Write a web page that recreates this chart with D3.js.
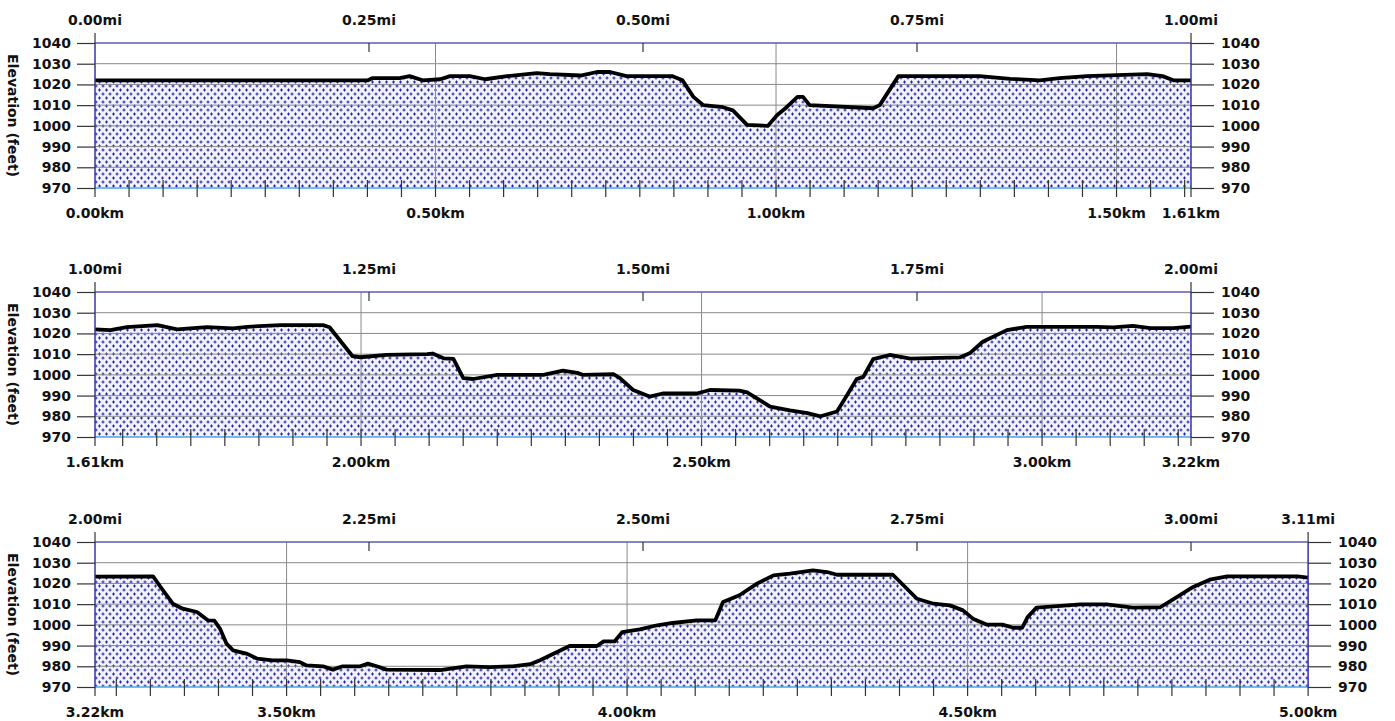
<!DOCTYPE html>
<html><head><meta charset="utf-8">
<script src="https://cdn.jsdelivr.net/npm/d3@7"></script>
<style>
body{margin:0;background:#fff;}
text{font-family:"DejaVu Sans",Verdana,sans-serif;font-weight:bold;font-size:14px;fill:#111;}
</style>
</head><body>
<svg id="chart" width="1395" height="721"></svg>
<script>
// ---- data ----
const KM_PER_MI = 1.609344;
const profileMiles = [
  0.000,0.249,0.253,0.278,0.287,0.299,0.315,0.324,0.342,0.356,0.376,0.403,0.415,0.443,0.458,0.470,0.485,0.527,0.536,0.546,
  0.555,0.573,0.582,0.595,0.614,0.622,0.631,0.641,0.646,0.652,0.710,0.716,0.733,0.807,0.835,0.862,0.880,0.905,0.960,0.974,0.984,
  1.000,1.014,1.029,1.057,1.075,1.102,1.126,1.139,1.169,1.208,1.214,1.235,1.242,1.266,1.303,1.308,1.318,1.327,1.336,1.345,
  1.367,1.409,1.427,1.440,1.445,1.473,1.479,1.491,1.506,1.518,1.549,1.561,1.588,1.595,1.616,1.634,1.650,1.662,1.677,1.686,
  1.695,1.701,1.710,1.725,1.744,1.789,1.798,1.810,1.832,1.850,1.914,1.929,1.947,1.963,1.984,
  2.000,2.053,2.062,2.071,2.080,2.093,2.103,2.109,2.114,2.120,2.126,2.139,2.148,2.162,2.175,2.187,2.193,2.208,2.217,2.226,
  2.242,2.249,2.257,2.266,2.315,2.339,2.360,2.381,2.397,2.406,2.433,2.458,2.464,2.474,2.481,2.497,2.513,2.527,2.549,2.566,
  2.573,2.588,2.604,2.619,2.634,2.655,2.668,2.677,2.728,2.750,2.765,2.780,2.792,2.801,2.814,2.828,2.838,2.846,2.851,2.859,
  2.878,2.899,2.923,2.947,2.972,2.987,3.002,3.017,3.033,3.097,3.1069
];
const profileFeet = [
  1022,1022,1023,1023,1024,1022,1022.5,1024,1024,1022.5,1024,1025.5,1025,1024.3,1026,1026,1024,1024,1022,1014,
  1010,1009,1007.5,1000.5,1000,1005,1009,1014,1014,1010,1008.5,1010,1024,1024,1022.7,1022,1023,1024,1025,1024,1022,
  1022,1021.6,1023,1024,1022,1023,1022.4,1023.2,1024,1024,1023,1009,1008.5,1009.6,1010,1010.3,1008,1007.7,998.4,998,
  1000,1000,1002,1001,1000,1000.3,998.4,992.7,989.5,991,991,992.7,992.4,991.5,984.7,982.8,981.5,980,982.3,990,
  998,999,1007.6,1009.6,1007.8,1008.4,1010.4,1016,1021.6,1023.2,1023.2,1022.9,1023.6,1022.6,1022.6,
  1023.3,1023.4,1016.7,1010.2,1007.8,1006.2,1002.2,1002,998.2,990.9,987.7,986,983.7,982.9,982.9,982,980.4,980,978.4,980,
  980,981.3,980,978.4,978.2,980,979.6,980,981,982.9,989.8,989.8,992,992,996.5,997.8,999.8,1000.9,1002.2,1002.2,
  1011,1014.3,1019.9,1023.9,1024.7,1026.3,1025.5,1024.2,1024.2,1012.6,1010.2,1009.4,1007,1003,1000.1,1000.1,998.6,998.6,1003.8,1008.3,
  1009,1009.9,1009.9,1008.3,1008.5,1013.4,1018.3,1021.8,1023.4,1023.4,1022.8
];
const panelStartMiles = [0, 1, 2];
const panelEndMiles = [1, 2, 5 / KM_PER_MI];
const elevationTicks = [970, 980, 990, 1000, 1010, 1020, 1030, 1040];
const yLabel = "Elevation (feet)";

// ---- layout ----
const svg = d3.select("#chart");
const left = 95, pxPerMile = 1096, plotH = 145;
const panelTops = [43, 292, 542];

// fill pattern
const defs = svg.append("defs");
const pat = defs.append("pattern").attr("id", "dots").attr("patternUnits", "userSpaceOnUse")
  .attr("width", 7).attr("height", 8);
pat.append("rect").attr("width", 7).attr("height", 8).attr("fill", "#f2f2ff");
[[1.5, 2], [5, 6]].forEach(([cx, cy]) => {
  pat.append("rect").attr("x", cx - 1.5).attr("y", cy - 0.5).attr("width", 3).attr("height", 1).attr("fill", "#2424a8");
  pat.append("rect").attr("x", cx - 0.5).attr("y", cy - 1.5).attr("width", 1).attr("height", 3).attr("fill", "#2424a8");
});

const profile = profileMiles.map((m, i) => ({ mi: m, ft: profileFeet[i] }));
const fmt = d3.format(".2f");

panelStartMiles.forEach((m0, p) => {
  const m1 = panelEndMiles[p];
  const top = panelTops[p], bottom = top + plotH;
  const right = left + (m1 - m0) * pxPerMile;
  const x = d3.scaleLinear().domain([m0, m1]).range([left, right]);
  const km0 = m0 * KM_PER_MI, km1 = m1 * KM_PER_MI;
  const xk = d3.scaleLinear().domain([km0, km1]).range([left, right]);
  const y = d3.scaleLinear().domain([970, 1040]).range([bottom, top]);
  const g = svg.append("g");

  const clipId = "clip" + p;
  defs.append("clipPath").attr("id", clipId).append("rect")
    .attr("x", left).attr("y", top - 5).attr("width", right - left).attr("height", plotH + 5);

  const data = profile.filter(d => d.mi >= m0 - 1e-3 && d.mi <= m1 + 1e-3);

  // area fill
  g.append("path").datum(data).attr("clip-path", `url(#${clipId})`)
    .attr("fill", "url(#dots)")
    .attr("d", d3.area().x(d => x(d.mi)).y0(bottom).y1(d => y(d.ft)));

  // horizontal grid
  g.selectAll(".hg").data(elevationTicks.filter(t => t > 970 && t < 1040)).enter().append("line")
    .attr("x1", left).attr("x2", right).attr("y1", d => y(d)).attr("y2", d => y(d))
    .attr("stroke", "#8a8a8a").attr("stroke-width", 1);

  // vertical grid at 0.5 km
  const halfKm = d3.range(Math.ceil(km0 / 0.5 + 1e-6), Math.floor(km1 / 0.5 - 1e-6) + 1).map(k => k * 0.5);
  g.selectAll(".vg").data(halfKm).enter().append("line")
    .attr("x1", d => xk(d)).attr("x2", d => xk(d)).attr("y1", top).attr("y2", bottom)
    .attr("stroke", "#8a8a8a").attr("stroke-width", 1);

  // top and bottom borders
  g.append("line").attr("x1", left).attr("x2", right).attr("y1", top).attr("y2", top)
    .attr("stroke", "#5c5cb0").attr("stroke-width", 1.5);
  g.append("line").attr("x1", left).attr("x2", right).attr("y1", bottom).attr("y2", bottom)
    .attr("stroke", "#4ea6e0").attr("stroke-width", 1.5);

  // profile line
  g.append("path").datum(data).attr("clip-path", `url(#${clipId})`)
    .attr("fill", "none").attr("stroke", "#000").attr("stroke-width", 3.8)
    .attr("stroke-linejoin", "round")
    .attr("d", d3.line().x(d => x(d.mi)).y(d => y(d.ft)));

  // minor km ticks every 0.05 km
  const minor = d3.range(Math.ceil(km0 / 0.05 + 1e-6), Math.floor(km1 / 0.05 - 1e-6) + 1).map(k => k * 0.05);
  g.selectAll(".mk").data(minor).enter().append("line")
    .attr("x1", d => xk(d)).attr("x2", d => xk(d)).attr("y1", bottom - 8).attr("y2", bottom + 9)
    .attr("stroke", "#333").attr("stroke-width", 1.2);

  // edges
  [left, right].forEach(ex => {
    g.append("line").attr("x1", ex).attr("x2", ex).attr("y1", top - 10).attr("y2", top)
      .attr("stroke", "#333").attr("stroke-width", 1.2);
    g.append("line").attr("x1", ex).attr("x2", ex).attr("y1", top).attr("y2", bottom)
      .attr("stroke", "#3535a8").attr("stroke-width", 1.5);
    g.append("line").attr("x1", ex).attr("x2", ex).attr("y1", bottom).attr("y2", bottom + 9)
      .attr("stroke", "#333").attr("stroke-width", 1.2);
  });

  // mile ticks every 0.25 mi (interior)
  const miTicks = d3.range(Math.ceil(m0 / 0.25 + 1e-6), Math.floor(m1 / 0.25 - 1e-6) + 1).map(k => k * 0.25);
  g.selectAll(".mt").data(miTicks).enter().append("line")
    .attr("x1", d => x(d)).attr("x2", d => x(d)).attr("y1", top).attr("y2", top + 9)
    .attr("stroke", "#333").attr("stroke-width", 1.2);

  // mile labels
  const miLabels = [m0].concat(miTicks, [m1]);
  g.selectAll(".ml").data(miLabels).enter().append("text")
    .attr("x", d => x(d)).attr("y", top - 18).attr("text-anchor", "middle")
    .text(d => fmt(d) + "mi");

  // km labels
  const kmLabels = [km0].concat(halfKm, [km1]);
  g.selectAll(".kl").data(kmLabels).enter().append("text")
    .attr("x", d => xk(d)).attr("y", bottom + 30).attr("text-anchor", "middle")
    .text(d => fmt(d) + "km");

  // y axes
  const axL = g.append("g").attr("transform", `translate(${left},0)`)
    .call(d3.axisLeft(y).tickValues(elevationTicks).tickSize(18).tickPadding(6).tickFormat(d3.format("d")));
  const axR = g.append("g").attr("transform", `translate(${right},0)`)
    .call(d3.axisRight(y).tickValues(elevationTicks).tickSize(23).tickPadding(7).tickFormat(d3.format("d")));
  [axL, axR].forEach(a => {
    a.select(".domain").remove();
    a.selectAll(".tick line").attr("stroke", "#333").attr("stroke-width", 1.2);
    a.selectAll(".tick text").attr("fill", "#111");
    a.attr("font-size", null).attr("font-family", null);
  });

  // y label
  g.append("text").attr("transform", `translate(12,${(top + bottom) / 2}) rotate(90)`)
    .attr("text-anchor", "middle").attr("dominant-baseline", "middle").text(yLabel);
});
</script>
</body></html>
